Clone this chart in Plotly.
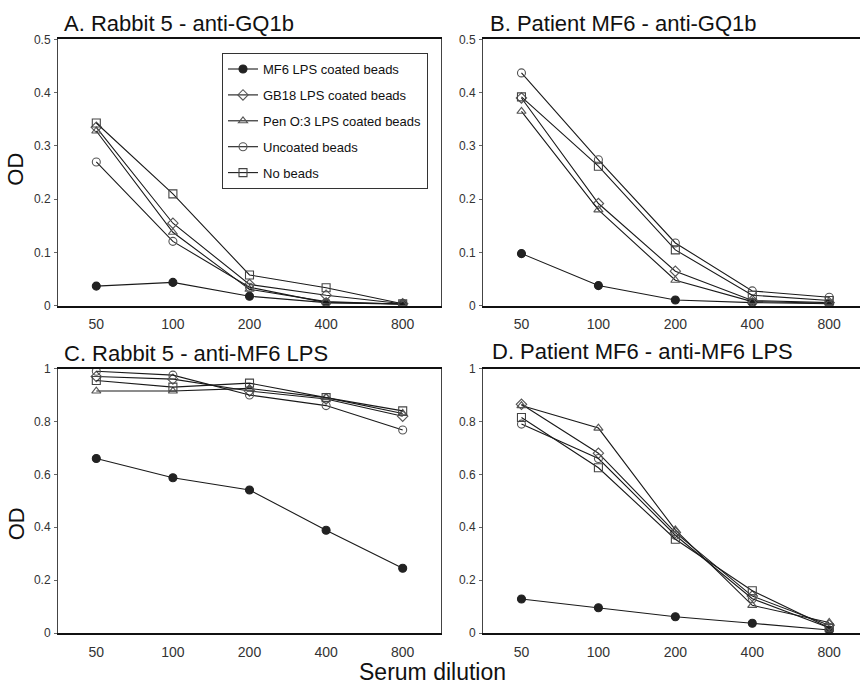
import plotly.graph_objects as go

dilutions = ["50", "100", "200", "400", "800"]
series_names = ["MF6 LPS coated beads", "GB18 LPS coated beads",
                "Pen O:3 LPS coated beads", "Uncoated beads", "No beads"]

# Panel A: Rabbit 5 - anti-GQ1b
a_mf6 = [0.037, 0.044, 0.018, 0.006, 0.004]
a_gb18 = [0.335, 0.155, 0.040, 0.020, 0.004]
a_pen = [0.328, 0.138, 0.031, 0.008, 0.003]
a_unc = [0.270, 0.121, 0.035, 0.006, 0.003]
a_nob = [0.343, 0.210, 0.058, 0.034, 0.004]

# Panel B: Patient MF6 - anti-GQ1b
b_mf6 = [0.098, 0.038, 0.011, 0.006, 0.004]
b_gb18 = [0.390, 0.192, 0.065, 0.010, 0.006]
b_pen = [0.365, 0.180, 0.048, 0.008, 0.005]
b_unc = [0.437, 0.274, 0.118, 0.028, 0.016]
b_nob = [0.392, 0.262, 0.105, 0.020, 0.010]

# Panel C: Rabbit 5 - anti-MF6 LPS
c_mf6 = [0.660, 0.587, 0.541, 0.389, 0.245]
c_gb18 = [0.970, 0.960, 0.915, 0.885, 0.820]
c_pen = [0.915, 0.915, 0.925, 0.890, 0.830]
c_unc = [0.990, 0.975, 0.900, 0.860, 0.768]
c_nob = [0.955, 0.930, 0.945, 0.890, 0.840]

# Panel D: Patient MF6 - anti-MF6 LPS
d_mf6 = [0.129, 0.096, 0.062, 0.037, 0.012]
d_gb18 = [0.865, 0.680, 0.380, 0.140, 0.030]
d_pen = [0.860, 0.775, 0.390, 0.105, 0.040]
d_unc = [0.790, 0.660, 0.370, 0.130, 0.020]
d_nob = [0.815, 0.625, 0.355, 0.160, 0.020]

titles = ["A. Rabbit 5 - anti-GQ1b", "B. Patient MF6 - anti-GQ1b",
          "C. Rabbit 5 - anti-MF6 LPS", "D. Patient MF6 - anti-MF6 LPS"]
ytick_top = [0, 0.1, 0.2, 0.3, 0.4, 0.5]
ytick_top_text = ["0", "0.1", "0.2", "0.3", "0.4", "0.5"]
ytick_bot = [0, 0.2, 0.4, 0.6, 0.8, 1.0]
ytick_bot_text = ["0", "0.2", "0.4", "0.6", "0.8", "1"]

panels = [
    [a_mf6, a_gb18, a_pen, a_unc, a_nob],
    [b_mf6, b_gb18, b_pen, b_unc, b_nob],
    [c_mf6, c_gb18, c_pen, c_unc, c_nob],
    [d_mf6, d_gb18, d_pen, d_unc, d_nob],
]

W, H = 860, 694
def px(x):
    return x / W
def py(y):
    return 1 - y / H

symbols = ["circle", "diamond-open", "triangle-up-open", "circle-open", "square-open"]
mcolors = ["#222222", "#555555", "#555555", "#555555", "#444444"]

fig = go.Figure()
axis_ids = [("x", "y"), ("x2", "y2"), ("x3", "y3"), ("x4", "y4")]
for p, vals in enumerate(panels):
    xa, ya = axis_ids[p]
    for i, v in enumerate(vals):
        fig.add_trace(go.Scatter(
            x=dilutions, y=v, mode="lines+markers", name=series_names[i],
            xaxis=xa, yaxis=ya,
            line=dict(color="#1a1a1a", width=1.1),
            marker=dict(symbol=symbols[i], size=8,
                        color=mcolors[i],
                        line=dict(color=mcolors[i], width=1.1)),
            showlegend=(p == 0), legendgroup=f"g{i}",
        ))

left_dom = [px(58), px(441)]
right_dom = [px(483), 1.0]
top_dom = [py(305), py(33)]
bot_dom = [py(639), py(369)]

common_x = dict(type="category", showline=True, linecolor="#111111", linewidth=1.5,
                mirror=True, ticks="", showgrid=False, zeroline=False,
                tickfont=dict(family="Liberation Sans, Arial", size=14, color="#333333"),
                ticklabelstandoff=5, fixedrange=True)
common_y = dict(showline=True, linecolor="#444444", linewidth=1,
                ticks="outside", ticklen=3, tickcolor="#666666", showgrid=False,
                zeroline=False,
                tickfont=dict(family="Liberation Sans, Arial", size=12, color="#333333"),
                ticklabelstandoff=1)

fig.update_layout(
    width=W, height=H, margin=dict(l=0, r=0, t=0, b=0),
    paper_bgcolor="white", plot_bgcolor="white",
    xaxis=dict(common_x, domain=left_dom, range=[-0.5, 4.5], anchor="y"),
    yaxis=dict(common_y, domain=top_dom, range=[0, 0.5], anchor="x", mirror=True,
               tickvals=ytick_top, ticktext=ytick_top_text),
    xaxis2=dict(common_x, domain=right_dom, range=[-0.5, 4.4], anchor="y2"),
    yaxis2=dict(common_y, domain=top_dom, range=[0, 0.5], anchor="x2", mirror=False,
                tickvals=ytick_top, ticktext=ytick_top_text),
    xaxis3=dict(common_x, domain=left_dom, range=[-0.5, 4.5], anchor="y3"),
    yaxis3=dict(common_y, domain=bot_dom, range=[0, 1.0], anchor="x3", mirror=True,
                tickvals=ytick_bot, ticktext=ytick_bot_text),
    xaxis4=dict(common_x, domain=right_dom, range=[-0.5, 4.4], anchor="y4"),
    yaxis4=dict(common_y, domain=bot_dom, range=[0, 1.0], anchor="x4", mirror=False,
                tickvals=ytick_bot, ticktext=ytick_bot_text),
    legend=dict(x=px(222), y=py(47), xanchor="left", yanchor="top",
                bordercolor="#333333", borderwidth=1, bgcolor="white",
                font=dict(family="Liberation Sans, Arial", size=13, color="#111111"),
                traceorder="grouped", tracegroupgap=6, itemwidth=30),
    showlegend=True,
)

title_pos = [(62, 17), (488, 17), (62, 354), (490, 352)]
anns = []
for t, (x, y) in zip(titles, title_pos):
    anns.append(dict(text=t, x=px(x), y=py(y), xref="paper", yref="paper",
                     xanchor="left", yanchor="middle", showarrow=False,
                     font=dict(family="Liberation Sans, Arial", size=22, color="#111111")))
for y in [166, 528]:
    anns.append(dict(text="OD", x=px(16), y=py(y), xref="paper", yref="paper",
                     xanchor="center", yanchor="middle", showarrow=False, textangle=-90,
                     font=dict(family="Liberation Sans, Arial", size=22, color="#111111")))
anns.append(dict(text="Serum dilution", x=px(433), y=py(679), xref="paper", yref="paper",
                 xanchor="center", yanchor="middle", showarrow=False,
                 font=dict(family="Liberation Sans, Arial", size=23, color="#111111")))
fig.update_layout(annotations=anns)

fig.write_html("out.html")
